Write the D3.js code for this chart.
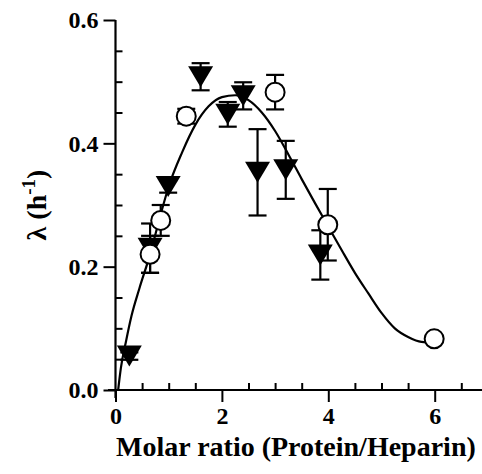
<!DOCTYPE html>
<html><head><meta charset="utf-8">
<script src="https://cdn.jsdelivr.net/npm/d3@7"></script>
<style>body{margin:0;background:#fff}svg{display:block}</style>
</head><body>
<script>
// Filled triangles (down)
const triX   = [0.26, 0.65, 0.99, 1.60, 2.11, 2.40, 2.67, 3.20, 3.85];
const triY   = [0.055, 0.23, 0.33, 0.508, 0.447, 0.477, 0.353, 0.357, 0.219];
const triErr = [0.006, 0.04, 0.01, 0.022, 0.02, 0.022, 0.07, 0.047, 0.04];
// Open circles
const cirX   = [0.65, 0.85, 1.33, 3.00, 3.99, 5.99];
const cirY   = [0.22, 0.275, 0.444, 0.483, 0.268, 0.083];
const cirErr = [0.03, 0.025, 0.012, 0.028, 0.058, 0.005];
// Fitted curve
const fitX = [0.05, 0.1, 0.2, 0.3, 0.45, 0.65, 0.85, 1.0, 1.25, 1.5, 1.75, 2.0, 2.25, 2.5, 2.75, 3.0, 3.25, 3.5, 3.75, 4.0, 4.25, 4.5, 4.75, 5.0, 5.25, 5.5, 5.75, 6.0];
const fitY = [0.0, 0.035, 0.08, 0.12, 0.165, 0.22, 0.285, 0.33, 0.385, 0.43, 0.46, 0.475, 0.478, 0.47, 0.45, 0.42, 0.382, 0.342, 0.303, 0.265, 0.227, 0.19, 0.157, 0.125, 0.1, 0.086, 0.078, 0.077];
const xMajor = [0, 2, 4, 6];
const yMajor = [0.0, 0.2, 0.4, 0.6];

const W = 482, H = 474;
const svg = d3.select("body").append("svg").attr("width", W).attr("height", H);
const x = d3.scaleLinear().domain([0, 7]).range([115.5, 115.5 + 7 * 53.2]);
const y = d3.scaleLinear().domain([0, 0.6]).range([390, 20]);
const font = "'Liberation Serif', 'Times New Roman', serif";

// X axis
const gx = svg.append("g").attr("transform", "translate(0,390)");
gx.call(d3.axisBottom(x).tickValues(xMajor).tickFormat(d3.format("d")).tickSize(12).tickPadding(5));
gx.append("g").call(d3.axisTop(x).tickValues(d3.range(0.5, 7, 0.5).filter(v => v % 2 !== 0)).tickSize(7).tickFormat(""));
gx.selectAll(".domain").remove();
gx.append("line").attr("x1", 108).attr("x2", W).attr("stroke", "#000").attr("stroke-width", 2.2);
// Y axis
const gy = svg.append("g").attr("transform", "translate(115.5,0)");
gy.call(d3.axisLeft(y).tickValues(yMajor).tickFormat(d3.format(".1f")).tickSize(12).tickPadding(5));
gy.append("g").call(d3.axisRight(y).tickValues(d3.range(0.05, 0.6, 0.05).filter(v => Math.abs(v * 5 - Math.round(v * 5)) > 1e-6)).tickSize(7).tickFormat(""));
gy.selectAll(".domain").remove();
gy.append("line").attr("y1", 20).attr("y2", 398).attr("stroke", "#000").attr("stroke-width", 2.2);

svg.selectAll(".tick line").attr("stroke-width", 2);
svg.selectAll(".tick text").attr("font-family", font).attr("font-weight", "bold").attr("font-size", 24).attr("fill", "#000");

// Curve
const pts = fitX.map((v, i) => [v, fitY[i]]);
svg.append("path").attr("d", d3.line().x(d => x(d[0])).y(d => y(d[1])).curve(d3.curveMonotoneX)(pts))
  .attr("fill", "none").attr("stroke", "#000").attr("stroke-width", 2.2);

// Error bars
function errBars(X, Y, E) {
  const g = svg.append("g").attr("stroke", "#000").attr("stroke-width", 2.2);
  X.forEach((v, i) => {
    const cx = x(v), y1 = y(Y[i] + E[i]), y2 = y(Y[i] - E[i]);
    g.append("line").attr("x1", cx).attr("x2", cx).attr("y1", y1).attr("y2", y2);
    g.append("line").attr("x1", cx - 9).attr("x2", cx + 9).attr("y1", y1).attr("y2", y1);
    g.append("line").attr("x1", cx - 9).attr("x2", cx + 9).attr("y1", y2).attr("y2", y2);
  });
}
errBars(triX, triY, triErr);
errBars(cirX, cirY, cirErr);

// Triangles
svg.append("g").selectAll("path").data(triX).join("path")
  .attr("d", (v, i) => {
    const cx = x(v), cy = y(triY[i]);
    return `M${cx - 12.5},${cy - 10.5}L${cx + 12.5},${cy - 10.5}L${cx},${cy + 10.5}Z`;
  }).attr("fill", "#000");
// Circles
svg.append("g").selectAll("circle").data(cirX).join("circle")
  .attr("cx", v => x(v)).attr("cy", (v, i) => y(cirY[i])).attr("r", 9.5)
  .attr("fill", "#fff").attr("stroke", "#000").attr("stroke-width", 2);

// Axis titles
svg.append("text").attr("x", 116).attr("y", 456).attr("font-family", font).attr("font-weight", "bold")
  .attr("font-size", 28).attr("fill", "#000").text("Molar ratio (Protein/Heparin)");
const yt = svg.append("text").attr("transform", "translate(46,205) rotate(-90)").attr("text-anchor", "middle")
  .attr("font-family", font).attr("font-weight", "bold").attr("font-size", 28).attr("fill", "#000");
yt.append("tspan").text("λ (h");
yt.append("tspan").attr("dy", -11).attr("font-size", 19).text("-1");
yt.append("tspan").attr("dy", 11).text(")");
</script>
</body></html>
